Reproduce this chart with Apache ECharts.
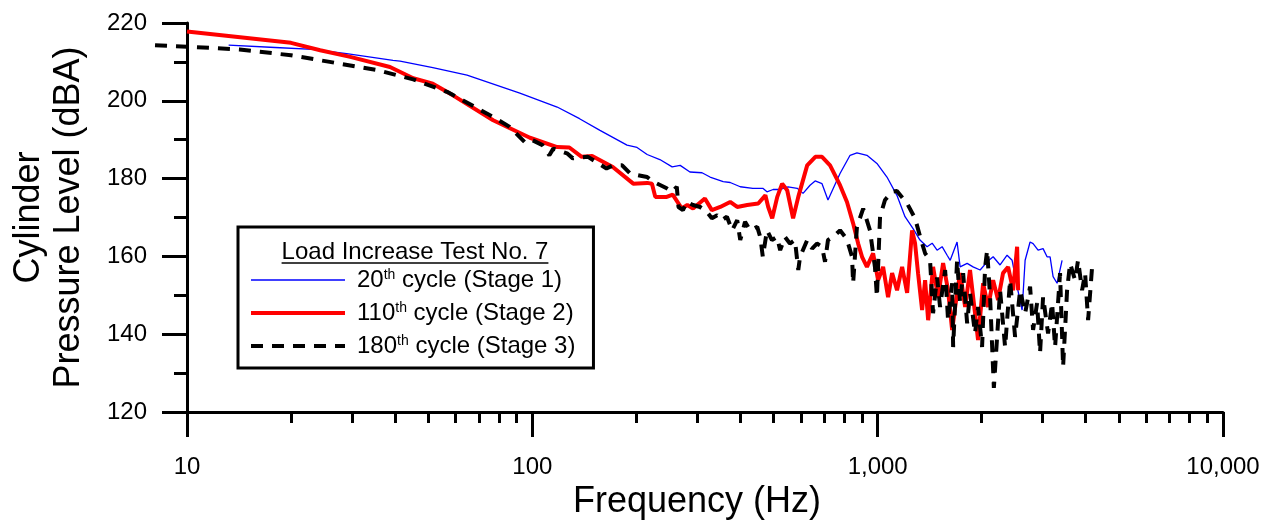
<!DOCTYPE html>
<html><head><meta charset="utf-8">
<script src="https://cdn.jsdelivr.net/npm/echarts@6/dist/echarts.min.js"></script>
<style>html,body{margin:0;padding:0;background:#fff}#c{width:1275px;height:520px}</style>
</head><body><div id="c"></div>
<script>
// ---- tick labels ----
const xTickLabels = {10:'10',100:'100',1000:'1,000',10000:'10,000'};
const xMinorTicks = [20,30,40,50,60,70,80,90,200,300,400,500,600,700,800,900,2000,3000,4000,5000,6000,7000,8000,9000];
const legendTitle = 'Load Increase Test No. 7';
const legendOrdinals = ['20','110','180'];
const legendStages = ['Stage 1','Stage 2','Stage 3'];
const seriesNames = legendOrdinals.map((o,i)=>o+'th cycle ('+legendStages[i]+')');

// ---- Stage 1 (20th cycle) ----
const s1Freq = [13.2,18,23.2,29,39.5,41.4,51.5,64.7,92,118,137,157,188,201,215,234,254,268,286,310,327,357,374,400,435,465,478,498,522,550,585,608,637,659,690,718,778,832,871,931,995,1064,1137,1200,1265,1326,1390,1438,1486,1537,1589,1622,1698,1733,1816,1889,1980,2075,2160,2262,2370,2451,2534,2620,2673,2763,2819,2914,3013,3094,3157,3221,3308,3420];
const s1Level = [214.3,213.7,213.2,212.1,210.4,210.2,208.5,206.6,202.0,198.4,195.4,192.4,188.6,188.0,186.2,184.9,183.0,183.4,181.7,181.5,180.4,179.2,179.0,177.9,177.5,177.5,176.6,177.2,177.2,177.9,177.5,176.2,178.3,179.4,178.7,174.5,181.3,186.0,186.6,186.0,183.9,180.4,175.7,170.2,167.2,164.2,162.5,163.4,161.6,162.5,160.3,159.0,163.7,157.3,158.2,157.3,156.5,158.6,159.9,157.8,160.3,159.0,152.2,146.2,159.0,163.7,163.3,161.6,162.0,159.9,159.9,154.8,153.1,159.0];

// ---- Stage 2 (110th cycle) ----
const s2Freq = [10,20,24.3,29.7,38.7,45.2,51.5,58.9,77,98.4,118,128,139,149,171,196,215,222,227,245,255,271,281,292,316,331,350,374,392,419,451,473,482,495,512,529,547,569,589,625,660,690,728,778,815,849,878,901,931,970,1003,1037,1072,1101,1138,1177,1217,1258,1283,1309,1345,1372,1400,1447,1496,1547,1599,1643,1698,1733,1792,1851,1914,1953,2020,2088,2159,2232,2307,2386,2467,2534,2551];
const s2Level = [217.8,214.9,213.0,211.3,208.7,205.8,204.4,201.4,195.0,190.5,188.1,188.0,185.6,185.8,183.0,178.7,178.9,178.7,175.3,175.3,175.9,172.3,173.2,172.3,174.9,171.9,172.7,174.0,172.7,173.2,173.6,175.7,172.7,169.8,175.3,178.7,177.0,169.8,175.3,183.4,185.6,185.6,183.4,178.3,174.0,168.5,163.3,159.9,157.3,160.8,153.9,157.3,149.5,155.7,151.3,157.3,150.6,166.7,163.4,155.7,146.2,153.9,143.6,157.3,149.5,158.3,151.3,141.1,150.6,155.7,147.0,156.5,145.4,138.5,153.1,147.0,153.9,148.8,155.7,157.3,151.3,162.5,151.3];

// ---- Stage 3 (180th cycle) ----
const s3Freq = [8.08,10,14.2,20,25.9,35.5,45.2,56.6,63,74,86,95,97,100,107,112,115,126,131,145,164,171,182,192,215,224,245,254,262,265,273,280,292,306,320,331,343,354,366,379,392,400,413,427,448,457,465,478,494,511,522,539,557,576,589,596,625,646,667,690,704,718,743,778,805,821,843,849,871,908,950,982,995,1016,1050,1101,1137,1217,1283,1328,1372,1418,1447,1486,1516,1568,1599,1643,1654,1698,1733,1768,1816,1851,1914,1953,2006,2047,2075,2116,2170,2262,2339,2418,2500,2585,2673,2763,2819,2895,2953,3013,3115,3200,3264,3374,3443,3536,3607,3729,3804,3908,3987,4068,4178];
const s3Level = [214.3,213.9,213.2,211.7,210.0,207.9,205.5,202.3,200.1,196.7,193.3,189.4,189.9,189.9,188.6,186.0,187.7,186.5,185.2,185.6,182.6,183.4,183.4,181.3,180.4,179.2,177.5,176.6,177.9,172.7,171.9,174.0,173.2,172.7,171.5,169.8,170.6,169.3,170.2,166.7,169.3,164.2,168.9,166.7,167.6,165.0,159.9,166.7,164.2,165.0,161.6,165.0,163.3,164.2,156.5,159.9,164.2,162.0,163.3,162.5,158.6,164.2,165.0,166.7,165.0,163.3,159.9,153.1,167.6,172.3,166.7,157.3,149.6,170.2,174.5,176.6,176.8,173.6,169.8,165.0,160.8,159.0,145.4,154.6,147.0,156.5,143.6,153.1,136.7,159.0,148.0,155.7,142.8,150.6,140.2,147.0,136.7,157.3,161.6,149.6,126.2,151.3,136.7,153.9,139.3,151.3,145.4,152.2,141.1,148.0,135.2,149.6,140.2,148.0,136.7,155.7,131.6,151.3,158.2,153.9,159.0,151.3,155.7,143.6,157.3];

const zip = (f, v) => f.map((x, i) => [x, v[i]]);
const FONT = 'Liberation Sans, Arial, sans-serif';

const chart = echarts.init(document.getElementById('c'), null, {renderer: 'canvas'});

// plot frame
const gLeft = 187, gRight = 52, gTop = 23, gBottom = 108;
const xMin = 10, xMax = 10000, yMin = 120, yMax = 220;
const plotW = 1275 - gLeft - gRight;
const pxPerDecade = plotW / Math.log10(xMax / xMin);
// second (hidden) grid that starts at the first stage-3 frequency, same scale
const s3Min = s3Freq[0];
const g2Left = gLeft - pxPerDecade * Math.log10(xMin / s3Min);

// line widths
const widths = [1.3, 4, 4];
const colors = ['#0000ff', '#ff0000', '#000000'];
const dash = [12, 9];

// measure title width for the underline
const cv = document.createElement('canvas').getContext('2d');
cv.font = '24px Liberation Sans';
const titleW = cv.measureText(legendTitle).width;
const legendLeft = 238, legendRight = 592;
const titleCx = (legendLeft + legendRight) / 2;
const titleCy = 253;

const baseX = {
  type: 'log', logBase: 10, min: xMin, max: xMax, gridIndex: 0, position: 'bottom',
  splitLine: {show: false}
};

chart.setOption({
  animation: false,
  backgroundColor: '#fff',
  grid: [
    {left: gLeft, right: gRight, top: gTop, bottom: gBottom, containLabel: false, outerBoundsMode: 'none'},
    {left: g2Left, right: gRight, top: gTop, bottom: gBottom, containLabel: false, outerBoundsMode: 'none'}
  ],
  xAxis: [
    Object.assign({}, baseX, {
      axisLine: {show: true, lineStyle: {color: '#000', width: 3}},
      axisTick: {show: true, length: 25, lineStyle: {color: '#000', width: 3}},
      axisLabel: {show: true, margin: 43, fontSize: 24, color: '#000', fontFamily: FONT,
        formatter: v => xTickLabels[Math.round(v)] || ''},
      name: 'Frequency (Hz)', nameLocation: 'middle', nameGap: 57,
      nameTextStyle: {fontSize: 36, color: '#000', fontFamily: FONT, padding: [0, 16, 0, 0]}
    }),
    Object.assign({}, baseX, {
      axisLine: {show: false},
      axisLabel: {show: false},
      axisTick: {show: true, length: 11, customValues: xMinorTicks, lineStyle: {color: '#000', width: 3}}
    }),
    {type: 'log', logBase: 10, min: s3Min, max: xMax, gridIndex: 1, show: false}
  ],
  yAxis: [
    {
      type: 'value', min: yMin, max: yMax, interval: 20, gridIndex: 0,
      splitLine: {show: false},
      axisLine: {show: true, lineStyle: {color: '#000', width: 3}},
      axisTick: {show: true, length: 25, lineStyle: {color: '#000', width: 3}},
      minorTick: {show: true, splitNumber: 2, length: 13, lineStyle: {color: '#000', width: 3}},
      axisLabel: {margin: 40, fontSize: 24, color: '#000', fontFamily: FONT},
      name: 'Cylinder\nPressure Level (dBA)', nameLocation: 'middle', nameRotate: 90, nameGap: 98,
      nameTextStyle: {fontSize: 36, lineHeight: 40, color: '#000', fontFamily: FONT}
    },
    {type: 'value', min: yMin, max: yMax, gridIndex: 1, show: false}
  ],
  legend: {
    show: true, orient: 'vertical', left: legendLeft, top: 227,
    padding: [41, 18, 10, 11], itemGap: 9, itemWidth: 94, itemHeight: 14,
    borderColor: '#000', borderWidth: 3, backgroundColor: '#fff',
    itemStyle: {opacity: 0},
    data: seriesNames.map((n, i) => ({
      name: n,
      lineStyle: {width: widths[i], color: colors[i], type: i === 2 ? dash : 'solid'}
    })),
    formatter: name => {
      const i = seriesNames.indexOf(name);
      return '{n|' + legendOrdinals[i] + '}{s|th}{n| cycle (' + legendStages[i] + ')}';
    },
    textStyle: {
      color: '#000', fontSize: 24, fontFamily: FONT, padding: [0, 0, 0, 7],
      rich: {
        n: {fontSize: 24, lineHeight: 24, fontFamily: FONT, color: '#000'},
        s: {fontSize: 14, lineHeight: 14, verticalAlign: 'top', fontFamily: FONT, color: '#000'}
      }
    }
  },
  graphic: [
    {type: 'text', left: titleCx - titleW / 2, top: titleCy - 13, z: 100,
      style: {text: legendTitle, font: '24px Liberation Sans', fill: '#000'}},
    {type: 'line', z: 100, shape: {x1: titleCx - titleW / 2, y1: titleCy + 10, x2: titleCx + titleW / 2, y2: titleCy + 10},
      style: {stroke: '#000', lineWidth: 1.5}}
  ],
  series: [
    {name: seriesNames[0], type: 'line', xAxisIndex: 0, yAxisIndex: 0, symbol: 'none', data: zip(s1Freq, s1Level),
      lineStyle: {color: colors[0], width: widths[0]}, itemStyle: {color: colors[0]}, z: 2},
    {name: seriesNames[1], type: 'line', xAxisIndex: 0, yAxisIndex: 0, symbol: 'none', data: zip(s2Freq, s2Level),
      lineStyle: {color: colors[1], width: widths[1]}, itemStyle: {color: colors[1]}, z: 3},
    {name: seriesNames[2], type: 'line', xAxisIndex: 2, yAxisIndex: 1, symbol: 'none', clip: false, data: zip(s3Freq, s3Level),
      lineStyle: {color: colors[2], width: widths[2], type: dash}, itemStyle: {color: colors[2]}, z: 4}
  ]
});
</script></body></html>
